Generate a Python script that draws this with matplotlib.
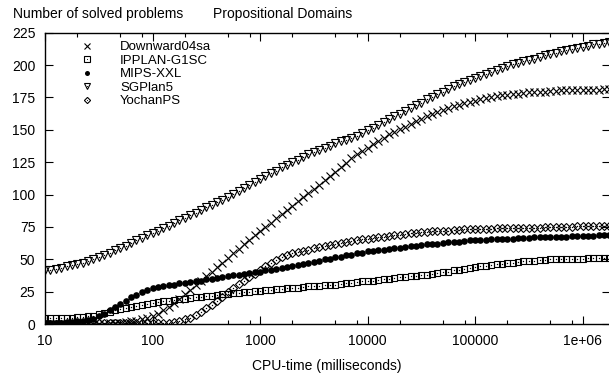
import numpy as np
import matplotlib.pyplot as plt
from matplotlib.ticker import FixedLocator, NullFormatter

plt.rcParams['font.family'] = ['Liberation Sans', 'DejaVu Sans']
plt.rcParams['font.size'] = 10

# sample times, 0.05 decade apart from 10 ms to ~1.8e6 ms
cpu_time_ms = np.logspace(1, 6.25, 106)

series_names = ["Downward04sa", "IPPLAN-G1SC", "MIPS-XXL", "SGPlan5", "YochanPS"]

downward = [
    0, 0, 0, 0, 0, 0, 0, 0, 0, 0,
    0, 0, 0.5, 0.5, 1, 1.5, 2, 2.5, 3.5, 4.5,
    6, 8, 10.5, 13, 16, 19.5, 23, 26.5, 30, 33.5,
    37, 40.5, 44, 47.5, 51, 54.5, 58, 61.5, 65, 68.5,
    71.5, 75, 78, 81.5, 85, 88, 91.5, 95, 98, 101,
    104.5, 107.5, 111, 114, 117.5, 121, 124.5, 128, 131, 134,
    136, 139, 141.5, 144, 146.5, 148.5, 150.5, 152.5, 154.5, 156.5,
    158.5, 160.5, 162.5, 164, 165.5, 167, 168.5, 169.5, 170.5, 171.5,
    172.5, 173.5, 174.5, 175.5, 176, 176.5, 177, 177.5, 178, 178.5,
    179, 179, 179.5, 179.5, 180, 180, 180.5, 180.5, 180.5, 181,
    181, 181, 181, 181, 181.5, 181.5,
]

ipplan = [
    4.5, 4.5, 4.5, 5, 5, 5, 5.5, 5.5, 6, 6.5,
    7.5, 8.5, 9.5, 10.5, 11.5, 12.5, 13.5, 14, 15, 15.5,
    16.5, 17, 17.5, 18, 18.5, 19, 19.5, 20, 20.5, 21,
    21.5, 22, 22.5, 23, 23.5, 24, 24, 24.5, 25, 25.5,
    25.5, 26, 26.5, 27, 27, 27.5, 28, 28, 28.5, 29,
    29, 29.5, 30, 30.5, 30.5, 31, 31.5, 32, 32.5, 33,
    33, 33.5, 34, 34.5, 35, 35.5, 36, 36.5, 37, 37,
    37.5, 38, 38.5, 39.5, 40, 40.5, 41.5, 42, 42.5, 43.5,
    44, 44.5, 45, 45.5, 46, 46.5, 47, 47.5, 48, 48.5,
    49, 49, 49.5, 49.5, 50, 50, 50, 50.5, 50.5, 50.5,
    50.5, 51, 51, 51, 51, 51,
]

mips = [
    1, 1, 1, 1, 1.5, 1.5, 2, 2.5, 3, 4,
    6, 8, 10.5, 13, 15.5, 18, 20.5, 22.5, 24.5, 26,
    27.5, 28.5, 29.5, 30, 30.5, 31.5, 32, 32.5, 33, 33.5,
    34.5, 35, 35.5, 36, 37, 37.5, 38, 38.5, 39.5, 40,
    40.5, 41.5, 42, 42.5, 43.5, 44, 45, 45.5, 46.5, 47,
    48, 49, 50, 50.5, 51.5, 52, 53, 53.5, 54.5, 55,
    56, 56.5, 57, 57.5, 58, 58.5, 59, 59.5, 60, 60.5,
    61, 61.5, 61.5, 62, 62.5, 63, 63.5, 63.5, 64, 64.5,
    64.5, 65, 65, 65.5, 65.5, 66, 66, 66, 66.5, 66.5,
    66.5, 67, 67, 67, 67.5, 67.5, 67.5, 67.5, 68, 68,
    68, 68, 68, 68.5, 68.5, 68.5,
]

sgplan = [
    42, 42, 42.5, 43.5, 44.5, 45.5, 46.5, 47.5, 49, 50.5,
    52, 53.5, 55, 57, 58.5, 60.5, 62.5, 64.5, 66.5, 68.5,
    70, 72, 74, 76, 78, 80, 82, 84, 86, 88,
    90, 92, 94, 96, 98, 100.5, 103, 105, 107, 109.5,
    112, 114, 116.5, 118.5, 121, 123, 125, 127, 129, 131,
    133, 134.5, 136, 137.5, 139.5, 141, 142.5, 144, 145.5, 147.5,
    149.5, 151.5, 154, 156, 158, 160.5, 162.5, 164.5, 166.5, 169,
    171, 173.5, 175.5, 177.5, 179.5, 181.5, 183.5, 185.5, 187, 188.5,
    190, 191.5, 193, 194.5, 196, 197.5, 199, 200.5, 201.5, 203,
    204, 205, 206.5, 207.5, 208.5, 209.5, 210.5, 211.5, 212.5, 213.5,
    214, 215, 216, 216.5, 217, 217.5,
]

yochan = [
    0, 0, 0, 0, 0, 0, 0, 0.5, 0.5, 0.5,
    0.5, 1, 1, 1, 1, 1, 1, 1, 1, 1,
    1, 1, 1, 1, 1.5, 2.5, 3.5, 5, 7, 9.5,
    12, 15, 17.5, 20.5, 24.5, 27.5, 31, 33.5, 36.5, 39,
    42, 44.5, 47, 49.5, 51.5, 53, 54.5, 55.5, 56.5, 57.5,
    58.5, 59.5, 60.5, 61, 62, 62.5, 63.5, 64, 65, 65.5,
    66, 66.5, 67, 67.5, 68, 68.5, 69, 69.5, 70, 70.5,
    71, 71, 71.5, 71.5, 72, 72, 72.5, 72.5, 73, 73,
    73, 73.5, 73.5, 73.5, 74, 74, 74, 74, 74.5, 74.5,
    74.5, 74.5, 74.5, 75, 75, 75, 75, 75, 75, 75.5,
    75.5, 75.5, 75.5, 75.5, 75.5, 75.5,
]

x_ticks = [10, 100, 1000, 10000, 100000, 1000000]
x_tick_labels = ["10", "100", "1000", "10000", "100000", "1e+06"]
y_ticks = [0, 25, 50, 75, 100, 125, 150, 175, 200, 225]


def dotted(ax, y, marker, size):
    outer, = ax.plot(cpu_time_ms, y, linestyle='none', marker=marker, ms=size,
                     mfc='none', mec='black', mew=0.8)
    inner, = ax.plot(cpu_time_ms, y, linestyle='none', marker='o', ms=1.0,
                     mfc='black', mec='black', mew=0)
    return (outer, inner)


def main():
    fig = plt.figure(figsize=(6.09, 3.80), dpi=100)
    ax = fig.add_axes([45 / 609, 56 / 380, 565 / 609, 291.3 / 380])

    h_down, = ax.plot(cpu_time_ms, downward, linestyle='none', marker='x',
                      ms=5.5, mew=0.8, color='black')
    h_ipp = dotted(ax, ipplan, 's', 5)
    h_mips, = ax.plot(cpu_time_ms, mips, linestyle='none', marker='o',
                      ms=4.8, color='black', mew=0)
    h_sgp = dotted(ax, sgplan, 'v', 6)
    h_yoc = dotted(ax, yochan, 'D', 4.2)

    ax.set_xscale('log')
    ax.set_xlim(10, 1.8e6)
    ax.set_ylim(0, 225)
    ax.set_xticks(x_ticks)
    ax.set_xticklabels(x_tick_labels)
    minor = [d * s for d in x_ticks for s in (2, 5, 8)]
    ax.xaxis.set_minor_locator(FixedLocator(minor))
    ax.xaxis.set_minor_formatter(NullFormatter())
    ax.set_yticks(y_ticks)

    ax.tick_params(which='both', direction='in', top=True, right=True, width=0.8)
    ax.tick_params(which='major', length=6, pad=7)
    ax.tick_params(which='minor', length=3)
    for sp in ax.spines.values():
        sp.set_linewidth(1.0)

    ax.legend([h_down, h_ipp, h_mips, h_sgp, h_yoc], series_names,
              loc='upper left', bbox_to_anchor=(80.4 / 609, 1 - 41 / 380),
              bbox_transform=fig.transFigure, frameon=False, borderpad=0,
              borderaxespad=0, handlelength=1.0, handletextpad=2.0,
              labelspacing=0.1, fontsize=9.5, markerscale=0.75)

    fig.text(13 / 609, 1 - 14 / 380, "Number of solved problems", va='center', ha='left')
    fig.text(213 / 609, 1 - 14 / 380, "Propositional Domains", va='center', ha='left')
    fig.text(327 / 609, 1 - 366 / 380, "CPU-time (milliseconds)", va='center', ha='center')

    fig.savefig("out.png", dpi=100)


if __name__ == '__main__':
    main()
